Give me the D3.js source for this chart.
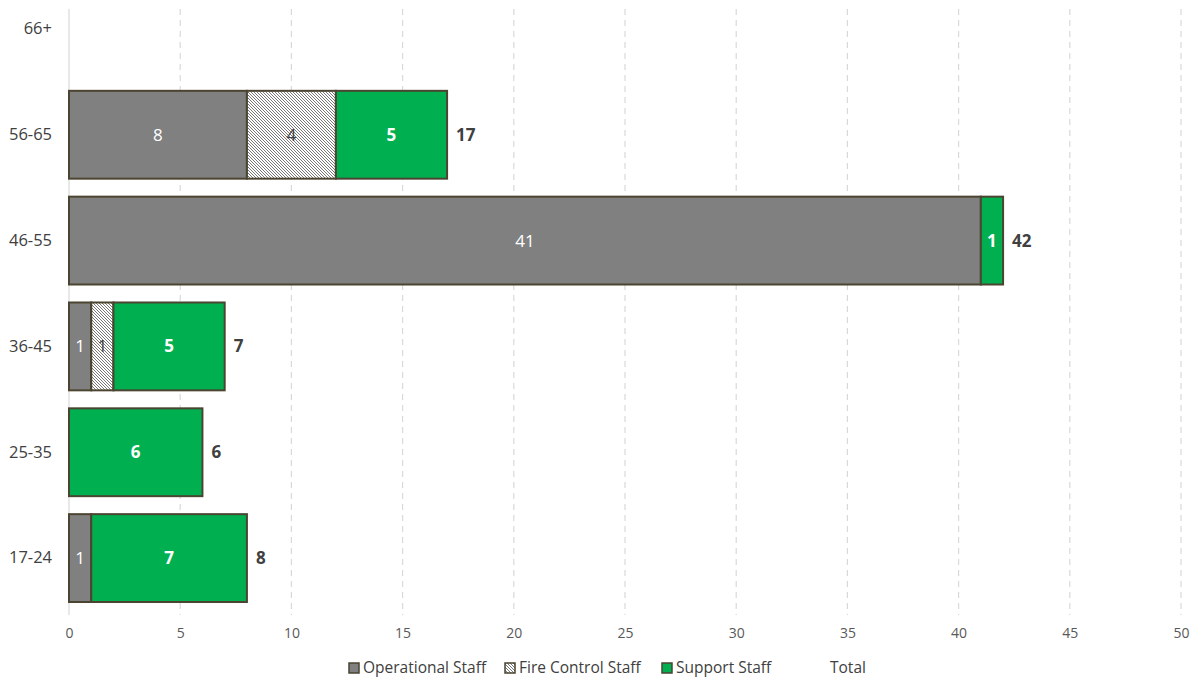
<!DOCTYPE html>
<html><head><meta charset="utf-8">
<script src="https://cdn.jsdelivr.net/npm/d3@7"></script>
<style>body{margin:0;background:#fff}svg{display:block}</style>
</head><body>
<svg id="c" width="1200" height="681"></svg>
<script>
const categories = ["17-24","25-35","36-45","46-55","56-65","66+"];
const operational = [1,0,1,41,8,0];
const fireControl = [0,0,1,0,4,0];
const support = [7,6,5,1,5,0];
const totals = [8,6,7,42,17,0];
const xTicks = [0,5,10,15,20,25,30,35,40,45,50];
const seriesNames = ["Operational Staff","Fire Control Staff","Support Staff","Total"];

const svg = d3.select("#c");
const font = "'Open Sans', 'Noto Sans', sans-serif";
const defs = svg.append("defs");
const pat = defs.append("pattern").attr("id","hatch").attr("patternUnits","userSpaceOnUse")
  .attr("width",3).attr("height",3);
pat.append("rect").attr("width",3).attr("height",3).attr("fill","#fff");
pat.append("path").attr("d","M-1,-1 L4,4 M-1,2 L1,4 M2,-1 L4,1").attr("stroke","#6a6a6a").attr("stroke-width",0.9);

const x = d3.scaleLinear().domain([0,50]).range([69,1181]);
const y = d3.scaleBand().domain(categories).range([611,-24]).paddingInner(0.17).paddingOuter(0.085);

// grid
svg.append("g").selectAll("line").data(xTicks).join("line")
  .attr("x1",d=>x(d)).attr("x2",d=>x(d)).attr("y1",9).attr("y2",615)
  .attr("stroke","#d9d9d9").attr("stroke-width",1.2)
  .attr("stroke-dasharray",d=>d===0?null:"6,5");

// x axis labels
const xa = svg.append("g").attr("transform","translate(0,633)")
  .call(d3.axisBottom(x).tickValues(xTicks).tickSize(0).tickPadding(0));
xa.select(".domain").remove();
xa.selectAll("text").attr("font-family",font).attr("font-size",14).attr("fill","#595959").attr("dy","0.35em");

// y axis labels
const ya = svg.append("g").attr("transform","translate(52,0)")
  .call(d3.axisLeft(y).tickSize(0).tickPadding(0));
ya.select(".domain").remove();
ya.selectAll("text").attr("font-family",font).attr("font-size",16.5).attr("fill","#404040");

const rows = categories.map((c,i)=>({c, op:operational[i], fc:fireControl[i], sp:support[i], t:totals[i]}));
const segs = [];
rows.forEach(r=>{
  let s=0;
  [["op",r.op],["fc",r.fc],["sp",r.sp]].forEach(([k,v])=>{
    if(v>0) segs.push({c:r.c,k,v,x0:s,x1:s+v});
    s+=v;
  });
});
const fills = {op:"#808080", fc:"url(#hatch)", sp:"#00b050"};
const g = svg.append("g");
g.selectAll("rect").data(segs).join("rect")
  .attr("x",d=>x(d.x0)).attr("width",d=>x(d.x1)-x(d.x0))
  .attr("y",d=>y(d.c)).attr("height",y.bandwidth())
  .attr("fill",d=>fills[d.k]).attr("stroke","#4a4430").attr("stroke-width",2);

g.selectAll("text.seg").data(segs).join("text").attr("class","seg")
  .attr("x",d=>(x(d.x0)+x(d.x1))/2).attr("y",d=>y(d.c)+y.bandwidth()/2)
  .attr("dy","0.35em").attr("text-anchor","middle")
  .attr("font-family",font).attr("font-size",17)
  .attr("font-weight",d=>d.k==="sp"?"bold":"normal")
  .attr("fill",d=>d.k==="fc"?"#404040":"#ffffff")
  .text(d=>d.v);

g.selectAll("text.tot").data(rows.filter(r=>r.t>0)).join("text").attr("class","tot")
  .attr("x",d=>x(d.t)+9).attr("y",d=>y(d.c)+y.bandwidth()/2)
  .attr("dy","0.35em").attr("font-family",font).attr("font-size",17).attr("font-weight","bold")
  .attr("fill","#404040").text(d=>d.t);

// legend
const legFills = ["#808080","url(#hatch)","#00b050",null];
const legX = [349,505,662,830];
const lg = svg.append("g");
seriesNames.forEach((n,i)=>{
  if(legFills[i]) lg.append("rect").attr("x",legX[i]).attr("y",663).attr("width",10).attr("height",10)
    .attr("fill",legFills[i]).attr("stroke","#4a4430").attr("stroke-width",1.5);
  lg.append("text").attr("x",legFills[i]?legX[i]+14:legX[i]).attr("y",668).attr("dy","0.35em")
    .attr("font-family",font).attr("font-size",15.5).attr("fill","#404040").text(n);
});
</script>
</body></html>
